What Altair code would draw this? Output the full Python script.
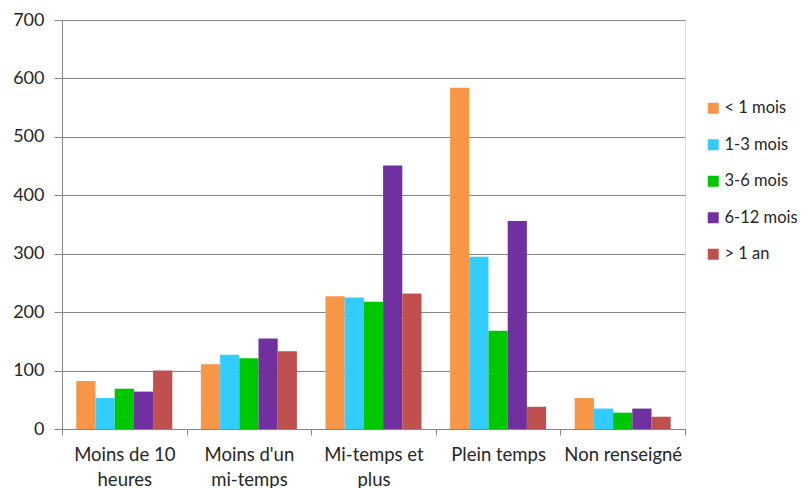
import altair as alt
import pandas as pd

# Categories (working-time bands) and duration series
categories = ["Moins de 10 heures", "Moins d'un mi-temps", "Mi-temps et plus",
              "Plein temps", "Non renseigné"]
series = ["< 1 mois", "1-3 mois", "3-6 mois", "6-12 mois", "> 1 an"]
colors = ["#F79646", "#33CCFF", "#00C800", "#7030A0", "#C0504D"]

v_lt1m = [82, 111, 227, 584, 53]
v_1_3m = [53, 127, 225, 295, 35]
v_3_6m = [69, 121, 218, 168, 28]
v_6_12m = [64, 155, 451, 356, 35]
v_gt1y = [100, 133, 232, 38, 21]

values = [v_lt1m, v_1_3m, v_3_6m, v_6_12m, v_gt1y]
rows = []
for s, vals in zip(series, values):
    for c, v in zip(categories, vals):
        rows.append({"categorie": c, "duree": s, "effectif": v})
df = pd.DataFrame(rows)

FONT = "Lato"
GRAY = "#868686"
TEXT = "#262626"

label_expr = (
    "datum.label == 'Moins de 10 heures' ? ['Moins de 10', 'heures'] : "
    "datum.label == \"Moins d'un mi-temps\" ? [\"Moins d'un\", 'mi-temps'] : "
    "datum.label == 'Mi-temps et plus' ? ['Mi-temps et', 'plus'] : datum.label"
)

chart = alt.Chart(df).mark_bar().encode(
    x=alt.X("categorie:N", sort=categories, title=None,
            scale=alt.Scale(paddingInner=0, paddingOuter=0),
            axis=alt.Axis(labelAngle=0, tickBand="extent", labelExpr=label_expr,
                          labelFontSize=18.5, labelFont=FONT, labelColor=TEXT,
                          labelLineHeight=25, labelPadding=10, tickSize=6,
                          tickColor=GRAY, domainColor=GRAY, grid=False,
                          labelBaseline="top")),
    xOffset=alt.XOffset("duree:N", sort=series,
                        scale=alt.Scale(paddingInner=0, paddingOuter=0.745)),
    y=alt.Y("effectif:Q", title=None,
            scale=alt.Scale(domain=[0, 700], nice=False),
            axis=alt.Axis(values=[0, 100, 200, 300, 400, 500, 600, 700],
                          labelFontSize=18, labelFont=FONT, labelColor=TEXT,
                          labelPadding=10, tickSize=8, tickColor=GRAY,
                          domainColor=GRAY, gridColor=GRAY, grid=True)),
    color=alt.Color("duree:N", sort=series,
                    scale=alt.Scale(domain=series, range=colors),
                    legend=alt.Legend(title=None, orient="none", legendX=643,
                                      legendY=80, symbolType="square",
                                      symbolSize=121, symbolStrokeWidth=0,
                                      labelFontSize=16.5, labelFont=FONT,
                                      labelColor=TEXT, rowPadding=19.5,
                                      labelOffset=3, padding=0)),
).properties(
    width=623, height=409,
    autosize=alt.AutoSizeParams(type="none"),
    padding={"left": 62, "top": 20, "right": 123, "bottom": 59},
).configure_view(stroke=None).configure(background="white")

chart.save("out.html", embed_options={"renderer": "svg", "actions": False})
